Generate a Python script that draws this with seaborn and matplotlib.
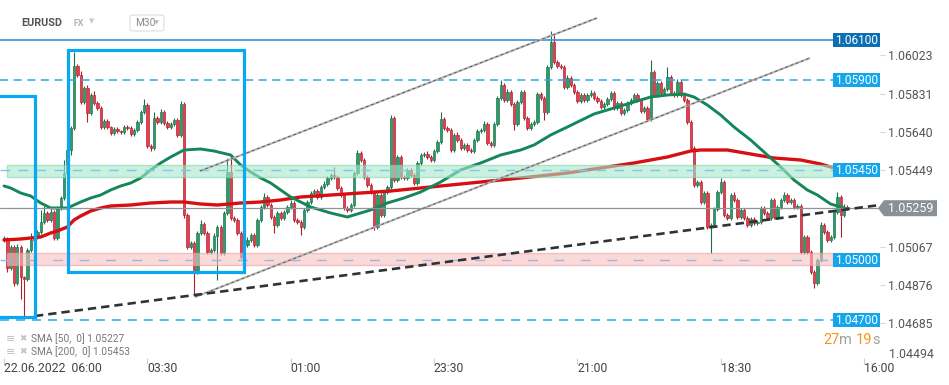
import matplotlib
matplotlib.use('Agg')
import matplotlib.pyplot as plt
import matplotlib.transforms as mtransforms
from matplotlib.patches import Rectangle, Polygon, FancyBboxPatch
import numpy as np
import pandas as pd
import seaborn as sns

sns.set_style('white')
plt.rcParams['font.family'] = ['Roboto', 'DejaVu Sans']
plt.rcParams['lines.scale_dashes'] = False

# EURUSD M30 closes, one per candle (open = previous close)
first_open = 1.05100
closes = [
    1.05110, 1.04960, 1.05065, 1.04885, 1.05065, 1.04915, 1.04905, 1.05050, 1.05100, 1.05115,
    1.05140, 1.05190, 1.05235, 1.05200, 1.05240, 1.05110, 1.05260, 1.05310, 1.05435, 1.05550,
    1.05660, 1.05970, 1.05925, 1.05790, 1.05860, 1.05735, 1.05825, 1.05785, 1.05760, 1.05665,
    1.05695, 1.05665, 1.05635, 1.05655, 1.05645, 1.05640, 1.05665, 1.05660, 1.05630, 1.05650,
    1.05690, 1.05740, 1.05775, 1.05570, 1.05560, 1.05710, 1.05690, 1.05740, 1.05685, 1.05665,
    1.05680, 1.05700, 1.05625, 1.05780, 1.05225, 1.05065, 1.05085, 1.04940, 1.05135, 1.05180,
    1.05135, 1.05040, 1.05050, 1.05120, 1.05165, 1.05035, 1.05235, 1.05440, 1.05210, 1.05200,
    1.05135, 1.05015, 1.05075, 1.05100, 1.05125, 1.05075, 1.05200, 1.05265, 1.05315, 1.05275,
    1.05215, 1.05175, 1.05235, 1.05210, 1.05240, 1.05265, 1.05285, 1.05200, 1.05190, 1.05165,
    1.05250, 1.05290, 1.05335, 1.05345, 1.05315, 1.05365, 1.05380, 1.05410, 1.05425, 1.05415,
    1.05360, 1.05325, 1.05260, 1.05250, 1.05275, 1.05435, 1.05535, 1.05500, 1.05415, 1.05375,
    1.05340, 1.05165, 1.05325, 1.05225, 1.05340, 1.05365, 1.05710, 1.05400, 1.05515, 1.05415,
    1.05410, 1.05450, 1.05425, 1.05385, 1.05485, 1.05525, 1.05530, 1.05515, 1.05500, 1.05545,
    1.05590, 1.05705, 1.05660, 1.05650, 1.05550, 1.05625, 1.05600, 1.05560, 1.05575, 1.05550,
    1.05545, 1.05600, 1.05645, 1.05650, 1.05680, 1.05585, 1.05575, 1.05680, 1.05810, 1.05875,
    1.05800, 1.05840, 1.05780, 1.05680, 1.05790, 1.05840, 1.05710, 1.05660, 1.05680, 1.05690,
    1.05830, 1.05810, 1.05740, 1.05965, 1.06090, 1.05990, 1.05970, 1.05965, 1.05865, 1.05910,
    1.05875, 1.05840, 1.05795, 1.05825, 1.05800, 1.05825, 1.05835, 1.05810, 1.05795, 1.05765,
    1.05780, 1.05805, 1.05835, 1.05760, 1.05785, 1.05735, 1.05750, 1.05785, 1.05800, 1.05825,
    1.05800, 1.05745, 1.05760, 1.05705, 1.05940, 1.05825, 1.05885, 1.05835, 1.05855, 1.05915,
    1.05835, 1.05825, 1.05890, 1.05825, 1.05800, 1.05690, 1.05560, 1.05375, 1.05390, 1.05290,
    1.05335, 1.05165, 1.05175, 1.05255, 1.05340, 1.05390, 1.05225, 1.05210, 1.05325, 1.05300,
    1.05215, 1.05250, 1.05210, 1.05175, 1.05205, 1.05185, 1.05190, 1.05260, 1.05235, 1.05210,
    1.05300, 1.05215, 1.05265, 1.05300, 1.05325, 1.05290, 1.05300, 1.05265, 1.05270, 1.05040,
    1.05115, 1.05040, 1.04940, 1.04885, 1.05000, 1.05175, 1.05140, 1.05100, 1.05115, 1.05240,
    1.05315, 1.05225, 1.05265, 1.05259,
]

# wick lengths beyond the body, in pips
up_wick = [
    1, 0.5, 1, 1, 1.5, 1, 0.5, 1, 3.5, 1,
    1, 6, 3.5, 1, 1.5, 1, 1, 1, 6.5, 1,
    1, 7, 1, 2, 1, 1.5, 1, 2, 1, 1,
    1, 1, 0.5, 1, 1, 0.5, 1, 1, 1, 1,
    1, 1, 3, 1, 1, 3, 1, 1.5, 1, 1,
    1, 1, 1, 1.5, 1, 1, 1, 1, 1, 2,
    1, 1, 1, 1.5, 1, 1, 1, 7, 8.5, 1,
    1, 1, 1, 1.5, 1, 1, 1, 1, 2, 1,
    1, 1, 1, 1, 1, 1, 1.5, 1, 1, 1,
    1, 1, 1, 1, 1, 1, 1.5, 1, 1, 4,
    1, 1, 1, 1, 1, 1, 1.5, 1, 1, 1,
    1, 1, 1, 1, 1, 1, 1.5, 1, 1, 1,
    1, 1, 1, 1, 1, 1, 1, 1.5, 1, 1,
    1, 3.5, 1, 1, 1, 1, 1.5, 1, 1, 1,
    1, 1, 1, 1, 1.5, 1, 1, 1, 1, 2.5,
    1, 1.5, 1, 1, 1, 1, 1, 1, 1, 1,
    1, 1, 1, 1, 5.5, 3.5, 1, 1, 1, 1.5,
    1, 1, 1, 1, 1, 1, 1.5, 1, 1, 1,
    1, 1, 1, 1, 1, 1, 1, 1, 1, 1,
    1, 1, 1, 1, 6, 1, 1, 1, 1, 5,
    1, 1, 1.5, 1, 1, 1, 1, 1, 1, 1,
    1, 1, 1, 1, 1, 2, 1, 1, 1, 1.5,
    1, 1, 1, 1, 1, 1, 1, 1, 1, 1,
    1, 1, 1, 1, 1.5, 1, 1, 1, 1, 1,
    1, 1, 1, 1, 1, 1.5, 1, 1, 1, 1,
    2.5, 1, 1.5, 1,
]
low_wick = [
    1, 2, 1, 1.5, 1, 11, 20, 1, 1, 1,
    1, 1, 1, 1, 1, 1, 1, 1, 1, 1,
    2.5, 1, 1, 1, 1, 4.5, 1, 1, 1, 1,
    1, 1, 1, 1, 1, 1, 1, 1, 1, 1,
    1, 1, 1, 1, 1.5, 1, 1, 1, 1, 1,
    1, 1, 1, 1, 1.5, 1, 1, 11.5, 1, 1,
    1, 1, 1, 1, 22, 1, 1, 1, 1, 1,
    1, 1, 1, 1, 1, 1, 1, 1, 1, 1,
    1, 4, 1, 1, 1, 1, 1, 1, 1, 4,
    1, 1, 1, 1, 1, 1, 1, 1, 1, 1,
    1, 1, 1, 1, 1, 1, 1, 1, 1, 1,
    1, 1.5, 1, 1, 1, 1, 1, 1, 1, 1,
    1, 1, 1, 1, 1, 1, 1, 1, 1, 1,
    1, 1, 1, 1, 1, 1, 1, 1, 1, 1,
    1, 1, 1, 1, 1, 1, 1, 1, 1, 1,
    1, 1, 1, 3, 1, 1, 1, 1, 1, 1,
    1, 1, 4, 1, 1, 1, 1, 1, 1, 1,
    1, 1, 1, 1, 1, 1, 1, 1, 1, 1,
    1, 1, 1, 1, 1, 1, 1, 1, 1, 1,
    1, 1, 1, 1, 1, 1, 1, 1, 1, 1,
    1, 1, 1, 1, 1, 1, 1, 1, 1, 1,
    1, 1, 13, 1, 1, 1, 1, 1, 1, 1,
    1, 1, 1, 1, 1, 1, 1, 1, 1, 1,
    1, 1, 1, 1, 1, 1, 1, 1, 1, 1,
    1, 1, 1, 2.5, 1, 1, 1, 1, 1, 1,
    1, 11, 1, 1,
]

# moving averages at selected candles
sma50_idx = [0, 2, 5, 8, 11, 14, 19, 23, 26, 29, 32, 35, 38, 41, 44, 47, 50, 54, 59, 63,
             68, 71, 74, 77, 80, 86, 92, 98, 103, 105, 110, 115, 120, 125, 131, 137, 143, 149, 155, 159,
             164, 169, 177, 185, 189, 194, 199, 204, 207, 211, 215, 219, 224, 229, 233, 237, 241, 244, 248, 252,
             253]
sma50_val = [1.05370, 1.05360, 1.05335, 1.05320, 1.05285, 1.05260, 1.05260, 1.05290, 1.05310, 1.05325,
             1.05350, 1.05370, 1.05385, 1.05410, 1.05450, 1.05485, 1.05515, 1.05550, 1.05555, 1.05545,
             1.05525, 1.05475, 1.05440, 1.05410, 1.05385, 1.05315, 1.05265, 1.05235, 1.05215, 1.05225,
             1.05250, 1.05285, 1.05310, 1.05340, 1.05390, 1.05450, 1.05485, 1.05525, 1.05550, 1.05575,
             1.05625, 1.05665, 1.05730, 1.05770, 1.05790, 1.05815, 1.05825, 1.05830, 1.05815, 1.05775,
             1.05725, 1.05665, 1.05600, 1.05525, 1.05465, 1.05400, 1.05350, 1.05325, 1.05280, 1.05260,
             1.05255]
sma200_idx = [0, 5, 8, 11, 14, 16, 19, 21, 23, 26, 29, 32, 38, 44, 50, 54, 59, 64, 71, 77,
              83, 89, 98, 107, 116, 125, 137, 149, 155, 169, 179, 189, 199, 206, 209, 217, 224, 231, 239, 245,
              248, 253]
sma200_val = [1.05100, 1.05105, 1.05110, 1.05115, 1.05135, 1.05145, 1.05165, 1.05200, 1.05220, 1.05245,
              1.05260, 1.05270, 1.05275, 1.05285, 1.05290, 1.05290, 1.05280, 1.05275, 1.05285, 1.05290,
              1.05300, 1.05315, 1.05325, 1.05335, 1.05345, 1.05360, 1.05380, 1.05400, 1.05410, 1.05435,
              1.05460, 1.05485, 1.05515, 1.05545, 1.05550, 1.05550, 1.05530, 1.05510, 1.05500, 1.05480,
              1.05465, 1.05450]

# drawn levels and zones
levels = [1.06100, 1.05900, 1.05450, 1.05000, 1.04700]
level_labels = ['1.06100', '1.05900', '1.05450', '1.05000', '1.04700']
green_zone = (1.05415, 1.05475)
red_zone = (1.04975, 1.05035)
last_price = 1.05259

# drawings: channel, trend line, boxes (candle index, price)
upper_channel = ([58.8, 177.9], [1.05445, 1.06210])
lower_channel = ([57.3, 241.8], [1.04815, 1.06010])
trend_line = ([9.3, 262.8], [1.04720, 1.05275])
box_left = (-5.0, 9.15, 1.04715, 1.05822)
box_mid = (19.05, 72.0, 1.04940, 1.06050)

ytick_vals = [1.06023, 1.05831, 1.05640, 1.05449, 1.05067, 1.04876, 1.04685]
ytick_labels = ['1.06023', '1.05831', '1.05640', '1.05449', '1.05067', '1.04876', '1.04685']
xtick_idx = [0, 43, 86, 129, 172, 215, 258]
xtick_labels = ['22.06.2022  06:00', '03:30', '01:00', '23:30', '21:00', '18:30', '16:00']

W, H = 949, 385
fig = plt.figure(figsize=(W / 100, H / 100), dpi=100)
ax = fig.add_axes([0, 27 / H, 880 / W, 358 / H])
XMIN, XMAX = -1.2, 262.8
ax.set_xlim(XMIN, XMAX)
ax.set_ylim(1.0451, 1.0630)
for s in ax.spines.values():
    s.set_visible(False)

df = pd.DataFrame({'close': closes, 'up': up_wick, 'dn': low_wick})
df['idx'] = np.arange(len(df))
df['open'] = df['close'].shift(1).fillna(first_open)
df['top'] = df[['open', 'close']].max(axis=1)
df['bot'] = df[['open', 'close']].min(axis=1)
df['high'] = df['top'] + df['up'] * 0.0001
df['low'] = df['bot'] - df['dn'] * 0.0001
df['h'] = (df['top'] - df['bot']).clip(lower=0.00004)
bull = df['close'] >= df['open']

for mask, body, edge in [(bull, '#2a9b69', '#1b6f4a'), (~bull, '#e63e4c', '#a91f2c')]:
    d = df[mask]
    ax.vlines(d['idx'], d['low'], d['high'], color=edge, linewidth=0.8, zorder=2.5)
    ax.bar(d['idx'], d['h'], bottom=d['bot'], width=0.7, color=body,
           edgecolor=edge, linewidth=0.45, zorder=3)

sma50 = pd.DataFrame({'idx': sma50_idx, 'value': sma50_val})
sma200 = pd.DataFrame({'idx': sma200_idx, 'value': sma200_val})
sns.lineplot(data=sma200, x='idx', y='value', color='#d70f12', linewidth=2.4,
             ax=ax, zorder=4, legend=False)
sns.lineplot(data=sma50, x='idx', y='value', color='#13875a', linewidth=2.1,
             ax=ax, zorder=4.1, legend=False)
ax.set_xlabel('')
ax.set_ylabel('')

# zones, drawn over the candles so they look faded through them
LX = 248.8
ax.add_patch(Rectangle((0.9, green_zone[0]), LX - 0.9, green_zone[1] - green_zone[0],
                       facecolor='#a8e8cb', edgecolor='#80d6ae', alpha=0.6, lw=1.0, zorder=5))
ax.add_patch(Rectangle((0.9, red_zone[0]), LX - 0.9, red_zone[1] - red_zone[0],
                       facecolor='#f7c1c1', edgecolor='#f0a0a4', alpha=0.6, lw=1.0, zorder=5))

level_style = [
    dict(color='#3a92d4', lw=1.2, ls='-'),
    dict(color='#22aaef', lw=1.1, dashes=(5.8, 4.0)),
    dict(color='#7cc8ea', lw=1.0, dashes=(7.0, 6.0)),
    dict(color='#9cb6de', lw=1.0, dashes=(7.0, 12.0)),
    dict(color='#22aaef', lw=1.1, dashes=(6.5, 5.0)),
]
label_colors = ['#0c6fb3', '#13a6ec', '#13a6ec', '#13a6ec', '#13a6ec']
for price, lab, st, lc in zip(levels, level_labels, level_style, label_colors):
    ax.plot([XMIN, LX], [price, price], zorder=6, **st)
    ax.add_patch(Rectangle((LX, price - 0.00033), XMAX - LX, 0.00066,
                           facecolor=lc, edgecolor='none', zorder=9))
    ax.text((LX + XMAX) / 2, price, lab, color='white', fontsize=8.6,
            ha='center', va='center', zorder=10)

# channel lines
for xs, ys in [upper_channel, lower_channel]:
    ax.plot(xs, ys, color='#b4b4b4', lw=1.5, zorder=6, solid_capstyle='butt')
    ax.plot(xs, ys, color='#5e5e5e', lw=0.7, dashes=(2.0, 2.0), zorder=6.1)

# trend line
ax.plot(trend_line[0], trend_line[1], color='#2e3338', lw=1.9, dashes=(6.0, 3.6), zorder=6.5)

# blue boxes
for x0, x1, y0, y1 in [box_left, box_mid]:
    ax.add_patch(Rectangle((x0, y0), x1 - x0, y1 - y0, fill=False,
                           edgecolor='#0aa8f0', lw=2.3, zorder=7))

# current price line and tag
ax.axhline(last_price, color='#8d949a', lw=0.9, zorder=6)
bt = mtransforms.blended_transform_factory(ax.transAxes, ax.transData)
tag = Polygon([(878 / 880, last_price), (884 / 880, last_price + 0.0004),
               (937 / 880, last_price + 0.0004), (937 / 880, last_price - 0.0004),
               (884 / 880, last_price - 0.0004)], closed=True, transform=bt,
              facecolor='#899096', edgecolor='none', clip_on=False, zorder=11)
ax.add_patch(tag)
ax.text(911 / 880, last_price, f'{last_price:.5f}', transform=bt, color='white',
        fontsize=9, ha='center', va='center', clip_on=False, zorder=12)

# axes ticks
ax.yaxis.tick_right()
ax.set_yticks(ytick_vals)
ax.set_yticklabels(ytick_labels)
ax.tick_params(axis='y', right=True, left=False, length=3.5, width=0.8, color='#d8d8d8',
               labelcolor='#555555', labelsize=8.8, pad=2)
ax.text(889 / 880, 1.04530, '1.04494', transform=bt, color='#555555', fontsize=8.8,
        ha='left', va='center', clip_on=False)
ax.set_xticks(xtick_idx)
ax.set_xticklabels(xtick_labels)
ax.tick_params(axis='x', bottom=True, length=4, width=0.8, color='#d0d0d0',
               labelcolor='#444444', labelsize=8.8, pad=-1)
for t in ax.get_xticklabels():
    t.set_ha('left')


def px(x, y):
    return x / W, 1 - y / H


# header
fig.text(*px(21, 23), 'EURUSD', fontsize=7.8, fontweight='bold', color='#555555', va='center')
fig.text(*px(73, 24), 'FX', fontsize=6.3, fontweight='bold', color='#b3b3b3', va='center')
fig.text(*px(89, 21), '▼', fontsize=5, color='#c8c8c8', va='center', family='DejaVu Sans')
fig.add_artist(FancyBboxPatch(px(130, 31), 34 / W, 16 / H,
                              boxstyle='round,pad=0,rounding_size=0.004',
                              transform=fig.transFigure, fc='white', ec='#dddddd', lw=0.8))
fig.text(*px(135, 23.5), 'M30', fontsize=7.3, color='#888888', va='center')
fig.text(*px(154, 22.5), '▼', fontsize=4.5, color='#bbbbbb', va='center', family='DejaVu Sans')

# SMA legend
for yy, txt in [(339, 'SMA [50,  0] 1.05227'), (352, 'SMA [200,  0] 1.05453')]:
    fig.text(*px(6, yy), '≡', fontsize=8, color='#bdbdbd', va='center', family='DejaVu Sans')
    fig.text(*px(19, yy), '✖', fontsize=6.5, color='#c4c4c4', va='center', family='DejaVu Sans')
    fig.text(*px(31, yy), txt, fontsize=7.3, color='#777777', va='center')

# candle countdown
for xx, txt, col in [(823, '27', '#f7941d'), (839, 'm', '#a0a0a0'),
                     (856, '19', '#f7941d'), (872, 's', '#a0a0a0')]:
    fig.text(*px(xx, 340), txt, fontsize=10.5, color=col, va='center')

fig.savefig('out.png', dpi=100)
